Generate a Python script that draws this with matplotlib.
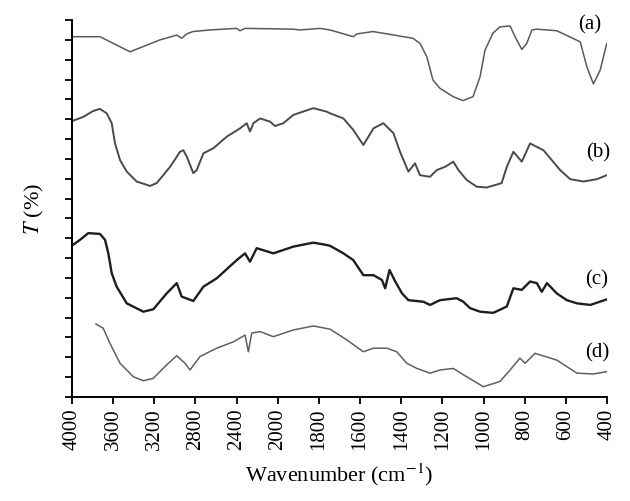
import numpy as np
import matplotlib
matplotlib.use("Agg")
from matplotlib import pyplot as plt

# FTIR spectra, wavenumber (cm-1) and transmittance (arbitrary offset, %)
wn_a = [3987, 3728, 3436, 3145, 2982, 2934, 2885, 2824, 2659, 2399, 2367, 2318,
        1926, 1892, 1795, 1746, 1633, 1616, 1537, 1343, 1309, 1276, 1246, 1212,
        1148, 1100, 1051, 1017, 993, 954, 920, 871, 847, 814, 790, 765, 741,
        644, 530, 498, 466, 433, 401]
t_a = [90.8, 90.8, 87.0, 90.0, 91.2, 90.4, 91.5, 92.1, 92.5, 92.9, 92.3, 92.9,
       92.7, 92.5, 92.9, 92.5, 90.8, 91.5, 92.1, 90.4, 89.1, 85.8, 79.9, 77.8,
       75.7, 74.7, 75.7, 80.7, 87.4, 91.7, 93.3, 93.5, 90.8, 87.6, 89.1, 92.5, 92.7,
       92.3, 89.5, 83.2, 78.9, 82.4, 89.1]

wn_b = [3993, 3890, 3793, 3728, 3663, 3614, 3582, 3533, 3468, 3371, 3242, 3177,
        3047, 2950, 2918, 2885, 2821, 2788, 2723, 2626, 2496, 2367, 2302, 2270,
        2237, 2172, 2075, 2027, 1973, 1924, 1827, 1762, 1746, 1681, 1633, 1584,
        1535, 1487, 1438, 1406, 1365, 1333, 1309, 1260, 1227, 1187, 1147, 1122,
        1082, 1033, 985, 912, 887, 855, 814, 774, 709, 628, 579, 514, 449, 401]
t_b = [69.6, 70.6, 72.1, 72.6, 71.5, 69.0, 63.9, 59.7, 56.8, 54.3, 53.2, 53.9,
       58.0, 61.8, 62.2, 60.6, 56.4, 57.2, 61.4, 62.7, 65.6, 67.7, 69.0, 66.9,
       69.0, 70.2, 69.4, 68.3, 69.0, 71.1, 72.8, 71.9, 71.5, 70.2, 67.3, 63.5,
       67.7, 69.0, 66.5, 61.8, 56.8, 58.9, 55.9, 55.5, 57.2, 58.0, 59.3, 57.2,
       54.7, 53.0, 52.8, 53.9, 58.0, 61.8, 59.3, 63.9, 62.2, 57.2, 54.9, 54.3, 54.9, 55.9]

wn_c = [3993, 3922, 3842, 3728, 3679, 3647, 3614, 3566, 3468, 3307, 3210, 3080,
        2982, 2934, 2821, 2723, 2594, 2399, 2318, 2270, 2205, 2043, 1924, 1827,
        1762, 1746, 1681, 1633, 1584, 1535, 1494, 1478, 1457, 1429, 1396, 1365,
        1292, 1260, 1212, 1131, 1098, 1066, 1017, 953, 887, 855, 814, 774, 741,
        717, 692, 644, 595, 546, 481, 401]
t_c = [38.3, 39.6, 41.3, 41.1, 39.6, 36.2, 31.2, 27.8, 23.6, 21.5, 22.1, 26.1,
       28.7, 25.3, 24.2, 27.8, 29.9, 34.5, 36.2, 34.1, 37.5, 36.2, 37.9, 38.9,
       38.3, 38.1, 36.2, 34.5, 30.7, 30.7, 29.5, 27.4, 32.0, 29.1, 26.1, 24.4,
       24.0, 23.2, 24.4, 24.9, 24.0, 22.4, 21.5, 21.2, 22.8, 27.4, 27.0, 29.1, 28.7,
       26.5, 28.7, 26.1, 24.4, 23.6, 23.2, 24.6]

wn_d = [3767, 3696, 3631, 3533, 3404, 3307, 3210, 3080, 2982, 2902, 2853, 2756,
        2594, 2432, 2318, 2286, 2253, 2172, 2043, 1924, 1827, 1746, 1665, 1584,
        1535, 1470, 1422, 1373, 1324, 1260, 1212, 1147, 1082, 1001, 920, 871,
        823, 798, 750, 644, 546, 466, 401]
t_d = [18.4, 17.3, 13.5, 8.5, 5.1, 4.1, 4.7, 8.1, 10.4, 8.5, 6.8, 10.2,
       12.3, 13.9, 15.6, 11.4, 16.1, 16.5, 15.2, 16.9, 17.9, 17.1, 14.4, 11.4,
       12.3, 12.3, 11.4, 8.5, 7.2, 6.0, 6.8, 7.2, 5.1, 2.6, 3.9, 6.8,
       9.8, 8.5, 11.0, 9.3, 6.0, 5.8, 6.4]

x_ticks = [4000, 3600, 3200, 2800, 2400, 2000, 1800, 1600, 1400, 1200, 1000, 800, 600, 400]
curve_labels = ["(a)", "(b)", "(c)", "(d)"]


# axis scale changes at 2000 cm-1 (400 per step above, 200 per step below)
def fwd(w):
    w = np.asarray(w, dtype=float)
    return np.where(w >= 2000, (w - 4000) / 400.0, -5 - (2000 - w) / 200.0)


def inv(p):
    p = np.asarray(p, dtype=float)
    return np.where(p >= -5, 4000 + 400.0 * p, 2000 + 200.0 * (p + 5))


plt.rcParams['font.family'] = ['Liberation Serif', 'DejaVu Serif']
plt.rcParams['mathtext.fontset'] = 'stix'

fig = plt.figure(figsize=(6.3, 5.01), dpi=100)
ax = fig.add_axes([0.1143, 0.2076, 0.8492, 0.7524])

ax.plot(wn_a, t_a, color="#5a5a5a", lw=1.1)
ax.plot(wn_b, t_b, color="#4a4a4a", lw=1.4)
ax.plot(wn_c, t_c, color="#1e1e1e", lw=1.7)
ax.plot(wn_d, t_d, color="#606060", lw=1.1)

ax.set_xscale("function", functions=(fwd, inv))
ax.set_xlim(4000, 400)
ax.set_xticks(x_ticks)
ax.set_xticklabels([str(v) for v in x_ticks], rotation=90, fontsize=15)
ax.set_ylim(0, 95)
ax.set_yticks(np.arange(0, 96, 5))
ax.set_yticklabels([])
ax.minorticks_off()

for s in ["top", "right"]:
    ax.spines[s].set_visible(False)
for s in ["left", "bottom"]:
    ax.spines[s].set_linewidth(1.4)
ax.tick_params(direction="out", length=5, width=1.3)

ax.set_xlabel("Wavenumber (cm$^{-1}$)", fontsize=16, labelpad=8)
ax.set_ylabel("$T$ (%)", fontsize=16, labelpad=10)

label_pos = [(0.968, 0.988), (0.983, 0.647), (0.981, 0.310), (0.981, 0.118)]
for lab, (px, py) in zip(curve_labels, label_pos):
    ax.text(px, py, lab, transform=ax.transAxes, ha="center", va="center",
            fontsize=15, clip_on=False)

plt.savefig("out.png", dpi=100)
